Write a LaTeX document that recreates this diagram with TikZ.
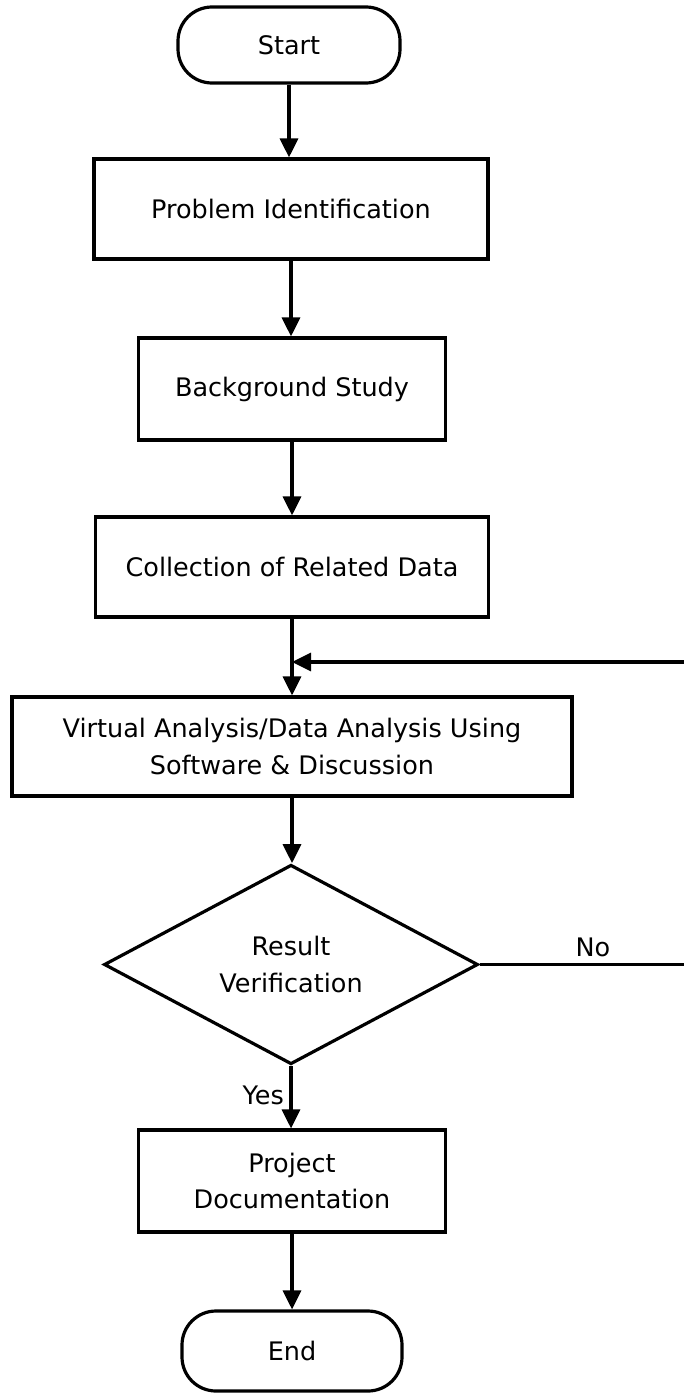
\documentclass[tikz,border=0pt]{standalone}
\usepackage{fontspec}
\setmainfont{DejaVu Sans}
\usetikzlibrary{arrows.meta,shapes.geometric,calc}
\begin{document}
\begin{tikzpicture}[x=1pt,y=-1pt,
  every node/.style={font=\fontsize{25.5}{36.5}\selectfont, align=center, inner sep=0pt},
  box/.style={draw, line width=3.2pt, rectangle},
  term/.style={draw, line width=3.2pt, rectangle, rounded corners=34pt},
  dec/.style={draw, line width=3.2pt, diamond},
  conn/.style={line width=3.2pt, -{Triangle[length=19pt,width=18pt]}},
  lbl/.style={}]
\useasboundingbox (0,0) rectangle (683,1394);
\node[term, minimum width=222pt, minimum height=76pt] (start) at (289,45) {Start};
\node[box, minimum width=394pt, minimum height=100pt] (pi) at (291,209) {Problem Identification};
\node[box, minimum width=307pt, minimum height=102pt] (bs) at (292,389) {Background Study};
\node[box, minimum width=393pt, minimum height=100pt] (crd) at (292,567) {Collection of Related Data};
\node[box, minimum width=560pt, minimum height=99pt] (va) at (292,746.5) {Virtual Analysis/Data Analysis Using\\Software \& Discussion};
\node[dec, minimum width=374pt, minimum height=187pt] (rv) at (291,964.5) {Result\\Verification};
\node[box, minimum width=307pt, minimum height=102pt] (pd) at (292,1181) {Project\\Documentation};
\node[term, minimum width=220pt, minimum height=80pt] (end) at (292,1351) {End};
\coordinate (fbtop) at (700,662);
\draw[conn] (start.south) -- (start.south |- pi.north);
\draw[conn] (pi.south) -- (pi.south |- bs.north);
\draw[conn] (bs.south) -- (bs.south |- crd.north);
\draw[conn] (crd.south) -- (crd.south |- va.north);
\draw[conn] (va.south) -- (va.south |- rv.north);
\draw[conn] (rv.east) -- (rv.east -| fbtop) -- (fbtop) -- (fbtop -| crd.south);
\draw[conn] (rv.south) -- (rv.south |- pd.north);
\draw[conn] (pd.south) -- (pd.south |- end.north);
\node[lbl] (no) at (593,947) {No};
\node[lbl, anchor=east] (yes) at (284,1095) {Yes};
\end{tikzpicture}
\end{document}
